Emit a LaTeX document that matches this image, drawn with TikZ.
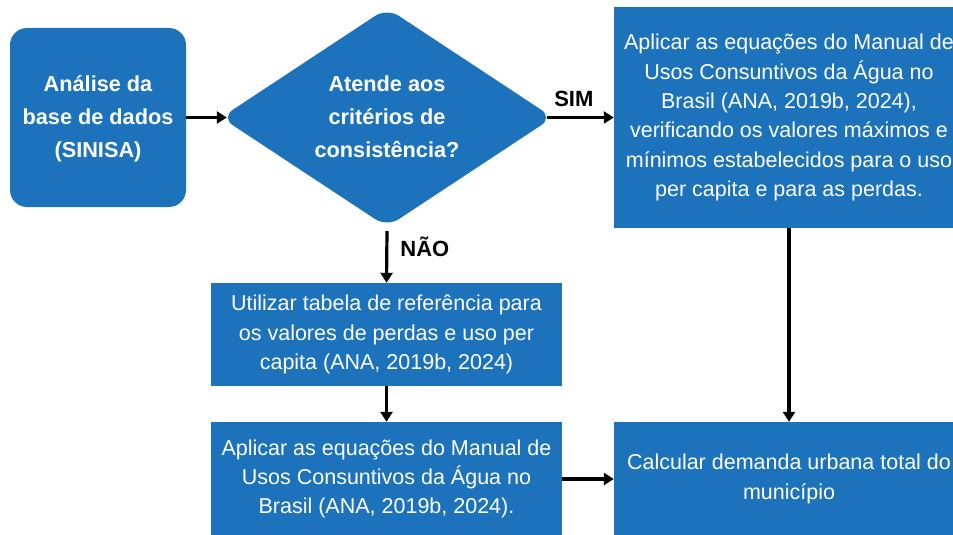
\documentclass[tikz,border=0pt]{standalone}
\usepackage{fontspec}
\setmainfont{Liberation Sans}
\usetikzlibrary{shapes.geometric,arrows.meta}
\definecolor{boxblue}{RGB}{29,114,188}
\begin{document}
\begin{tikzpicture}[x=1pt,y=-1pt,
  box/.style={fill=boxblue, draw=none, text=white, inner sep=0pt, align=center,
    font=\fontsize{21.5}{29.3}\selectfont},
  boldbox/.style={box, font=\fontsize{21.7}{33}\selectfont\bfseries},
  conn/.style={draw=black, line width=3.2pt, -{Triangle[length=10pt,width=12pt]}},
  lbl/.style={font=\fontsize{22}{25}\selectfont\bfseries, text=black, inner sep=2pt}
]
\useasboundingbox (0,0) rectangle (953,535);
\clip (0,0) rectangle (953,535);
\fill[white] (0,0) rectangle (953,535);

\node[boldbox, rounded corners=17pt, minimum width=176pt, minimum height=179pt]
  (b1) at (98,117.5) {\raisebox{-2pt}{\begin{tabular}{@{}c@{}}Análise da\\base de dados\\(SINISA)\end{tabular}}};
\node[boldbox, diamond, rounded corners=14pt, aspect=1.52, minimum width=332pt, minimum height=219pt]
  (dia) at (387,117.5) {\raisebox{-3pt}{\begin{tabular}{@{}c@{}}Atende aos\\critérios de\\consistência?\end{tabular}}};
\node[box, minimum width=350pt, minimum height=221pt]
  (b2) at (789,117.5) {Aplicar as equações do Manual de\\Usos Consuntivos da Água no\\Brasil (ANA, 2019b, 2024),\\verificando os valores máximos e\\mínimos estabelecidos para o uso\\per capita e para as perdas.};
\node[box, minimum width=351pt, minimum height=103pt]
  (nao) at (386.5,334.5) {Utilizar tabela de referência para\\os valores de perdas e uso per\\capita (ANA, 2019b, 2024)};
\node[box, minimum width=351pt, minimum height=114pt]
  (b4) at (386.5,479) {Aplicar as equações do Manual de\\Usos Consuntivos da Água no\\Brasil (ANA, 2019b, 2024).};
\node[box, minimum width=350pt, minimum height=114pt]
  (b3) at (789,479) {Calcular demanda urbana total do\\município};

\draw[conn] (b1.east) -- ([xshift=6pt]dia.west);
\draw[conn] ([xshift=-6pt]dia.east) -- node[lbl, above=7pt, pos=0.4] {SIM} (b2.west);
\draw[conn] ([yshift=-4pt]dia.south) -- node[lbl, right=10pt, pos=0.3] {NÃO} (nao.north);
\draw[conn] (nao.south) -- (b4.north);
\draw[conn] (b4.east) -- (b3.west);
\draw[conn] (b2.south) -- (b3.north);
\end{tikzpicture}
\end{document}
